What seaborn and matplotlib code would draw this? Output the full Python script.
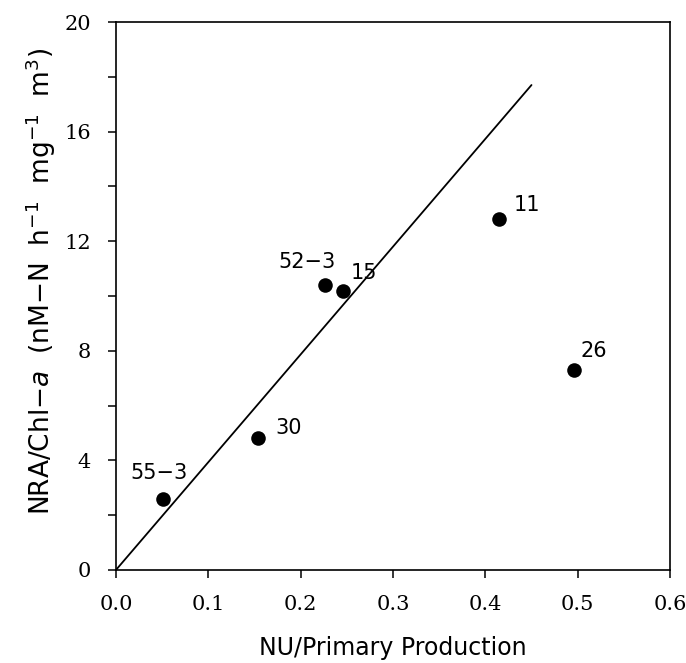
import matplotlib
matplotlib.use("Agg")
import matplotlib.pyplot as plt
import seaborn as sns
import pandas as pd

# Data
stations = ["55-3", "30", "52-3", "15", "11", "26"]
nu_pp = [0.051, 0.154, 0.226, 0.246, 0.415, 0.496]
nra_chl = [2.6, 4.8, 10.4, 10.2, 12.8, 7.3]
label_offsets_px = [(-4, 26), (30, 10), (-18, 23), (21, 18), (28, 14), (20, 19)]

fit_x = [0.0, 0.45]
fit_y = [0.0, 17.7]

x_ticks = [0.0, 0.1, 0.2, 0.3, 0.4, 0.5, 0.6]
y_ticks = [0, 2, 4, 6, 8, 10, 12, 14, 16, 18, 20]
y_ticklabels = ["0", "", "4", "", "8", "", "12", "", "16", "", "20"]

sns.set_style("ticks")
plt.rcParams["font.family"] = ["DejaVu Sans"]
plt.rcParams["mathtext.fontset"] = "dejavusans"
plt.rcParams["text.color"] = "black"
plt.rcParams["axes.labelcolor"] = "black"

df = pd.DataFrame({"x": nu_pp, "y": nra_chl, "station": stations})
fit = pd.DataFrame({"x": fit_x, "y": fit_y})

fig = plt.figure(figsize=(6.86, 6.63), dpi=100)
ax = fig.add_axes([0.169, 0.1403, 0.8077, 0.8265])

sns.lineplot(data=fit, x="x", y="y", ax=ax, color="black", linewidth=1.3, legend=False)
sns.scatterplot(data=df, x="x", y="y", ax=ax, color="black", s=110, edgecolor="black",
                linewidth=0, legend=False, zorder=3)

for st, xv, yv, off in zip(stations, nu_pp, nra_chl, label_offsets_px):
    ax.annotate(st.replace("-", "\u2212"), (xv, yv), xytext=off, textcoords="offset pixels",
                ha="center", va="center", fontsize=15, color="black")

ax.set_xlim(0, 0.6)
ax.set_ylim(0, 20)
ax.set_xticks(x_ticks)
ax.set_xticklabels([f"{v:.1f}" for v in x_ticks], family="DejaVu Serif", fontsize=15)
ax.set_yticks(y_ticks)
ax.set_yticklabels(y_ticklabels, family="DejaVu Serif", fontsize=15)
ax.tick_params(direction="out", length=6, width=1.1, colors="black")
ax.tick_params(axis="x", pad=12)
ax.tick_params(axis="y", pad=12)

for sp in ax.spines.values():
    sp.set_visible(True)
    sp.set_linewidth(1.2)
    sp.set_color("black")

ax.set_xlabel("NU/Primary Production", fontsize=17, labelpad=16)
ax.set_ylabel(r"NRA/Chl$-\mathit{a}$  (nM$-$N  h$^{-1}$  mg$^{-1}$  m$^{3}$)", fontsize=19)
ax.yaxis.set_label_coords(-0.105, 0.526)

fig.savefig("out.png", dpi=100, facecolor="white")
